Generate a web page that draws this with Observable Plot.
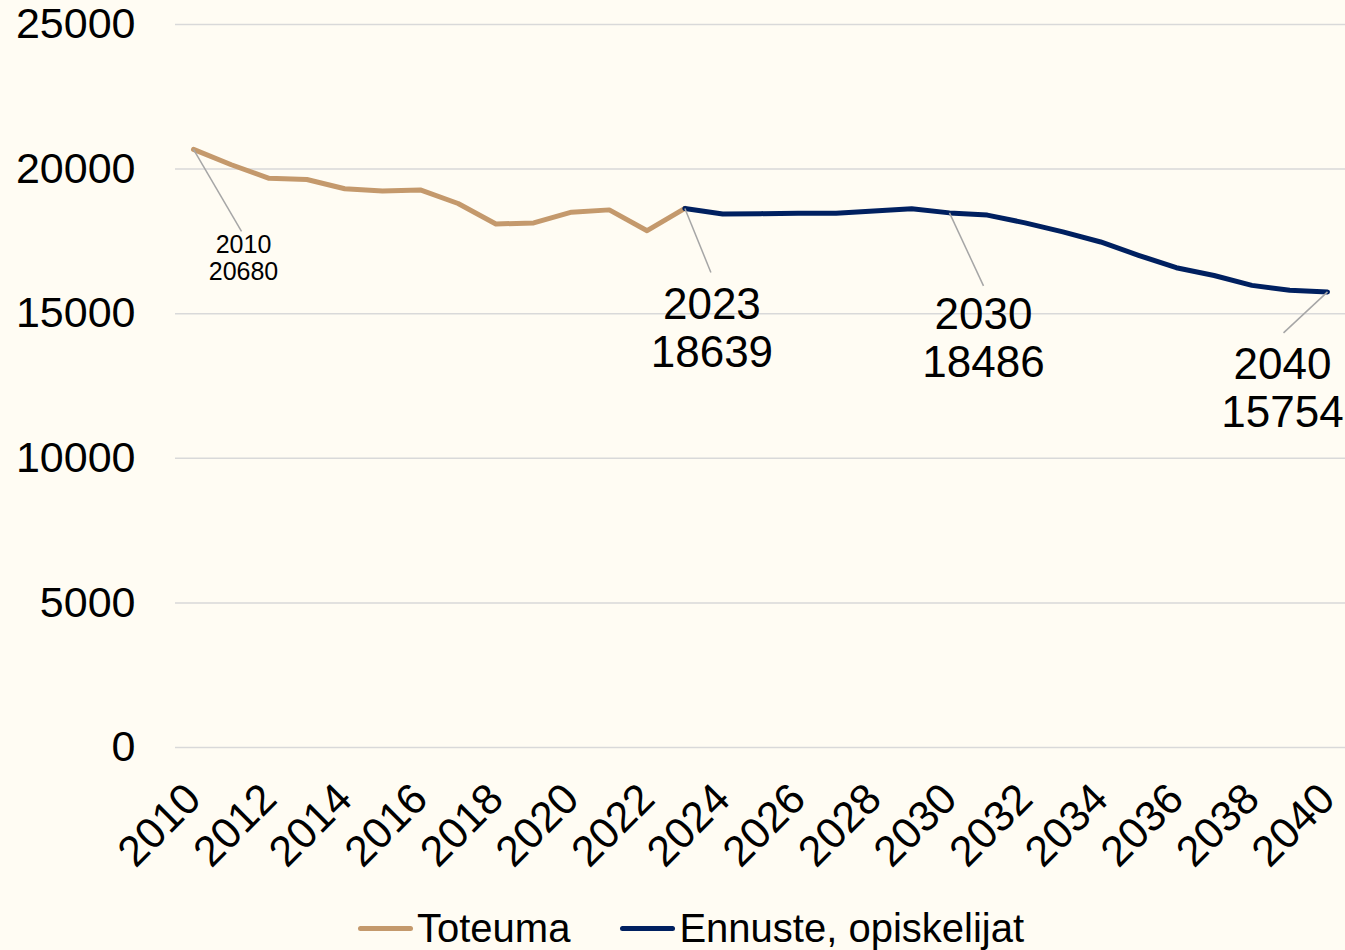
<!DOCTYPE html>
<html><head><meta charset="utf-8">
<script src="https://cdn.jsdelivr.net/npm/d3@7"></script>
<script src="https://cdn.jsdelivr.net/npm/@observablehq/plot@0.6"></script>
<style>
html,body{margin:0;padding:0;background:#FFFCF3;}
#wrap{position:relative;width:1345px;height:950px;font-family:"Liberation Sans",Arial,sans-serif;color:#000;}
#legend{position:absolute;left:358px;top:904px;display:flex;align-items:center;font-size:40px;line-height:48px;}
.item{display:flex;align-items:center;margin-right:50px;}
.swatch{width:55px;height:5px;border-radius:3px;margin-right:4px;}
</style></head>
<body><div id="wrap"><div id="chart"></div>
<div id="legend"></div></div>
<script>
// ---- data ----
const actualYears = [2010,2011,2012,2013,2014,2015,2016,2017,2018,2019,2020,2021,2022,2023];
const actualValues = [20680,20150,19680,19640,19320,19240,19280,18810,18100,18140,18510,18590,17870,18639];
const forecastYears = [2023,2024,2025,2026,2027,2028,2029,2030,2031,2032,2033,2034,2035,2036,2037,2038,2039,2040];
const forecastValues = [18639,18450,18460,18470,18470,18550,18630,18486,18410,18140,17830,17480,17020,16590,16320,15980,15810,15754];
const seriesNames = ["Toteuma","Ennuste, opiskelijat"];
const seriesColors = ["#C4996C","#002060"];
const yTicks = [0,5000,10000,15000,20000,25000];
const xTicks = [2010,2012,2014,2016,2018,2020,2022,2024,2026,2028,2030,2032,2034,2036,2038,2040];
const annotYears = [2010,2023,2030,2040];
const annotValues = [20680,18639,18486,15754];

// ---- layout ----
const W=1345, H=895, ML=193, MR=18, MT=24, MB=H-747;
const pxYear=(W-ML-MR)/30, pxUnit=(H-MT-MB)/25000;
// leader line offsets (px) and label offsets (px)
const lead = [[48,82],[26,64],[34,73],[-44,41]];
const lab = [[50,108],[27,119],[34,125],[-45,96]];
const labSize = [25,44,44,44];

const actual = actualYears.map((y,i)=>({year:y,value:actualValues[i]}));
const forecast = forecastYears.map((y,i)=>({year:y,value:forecastValues[i]}));
const annots = annotYears.map((y,i)=>({year:y,value:annotValues[i],i}));

const font = '"Liberation Sans", Arial, sans-serif';
const chart = Plot.plot({
  width:W, height:H, marginLeft:ML, marginRight:MR, marginTop:MT, marginBottom:MB,
  style:{background:"#FFFCF3", fontFamily:font, color:"#000", overflow:"visible"},
  x:{domain:[2010,2040], label:null},
  y:{domain:[0,25000], label:null},
  marks:[
    Plot.ruleY(yTicks,{stroke:"#d9d9d9",strokeWidth:1.5,insetLeft:-18,insetRight:-18}),
    Plot.axisY(yTicks,{tickSize:0,tickPadding:58,fontSize:43,tickFormat:d=>String(d),fill:"#000",label:null}),
    Plot.axisX(xTicks,{tickSize:0,tickPadding:44,tickRotate:-45,fontSize:43,tickFormat:d=>String(d),fill:"#000",label:null}),
    Plot.line(actual,{x:"year",y:"value",stroke:seriesColors[0],strokeWidth:5,strokeLinejoin:"round",strokeLinecap:"round"}),
    Plot.line(forecast,{x:"year",y:"value",stroke:seriesColors[1],strokeWidth:5,strokeLinejoin:"round",strokeLinecap:"round"}),
    Plot.link(annots,{x1:"year",y1:"value",
      x2:d=>d.year+lead[d.i][0]/pxYear, y2:d=>d.value-lead[d.i][1]/pxUnit,
      stroke:"#a6a6a6",strokeWidth:1.5}),
    ...annots.map(d=>Plot.text([d],{x:"year",y:"value",
      text:a=>`${a.year}\n${a.value}`, dx:lab[d.i][0], dy:lab[d.i][1],
      fontSize:labSize[d.i], lineHeight:1.09, fill:"#000", textAnchor:"middle"}))
  ]
});
document.getElementById("chart").appendChild(chart);

const legend = document.getElementById("legend");
seriesNames.forEach((n,i)=>{
  const it=document.createElement("div"); it.className="item";
  const sw=document.createElement("div"); sw.className="swatch"; sw.style.background=seriesColors[i];
  const t=document.createElement("span"); t.textContent=n;
  it.appendChild(sw); it.appendChild(t); legend.appendChild(it);
});
</script></body></html>
